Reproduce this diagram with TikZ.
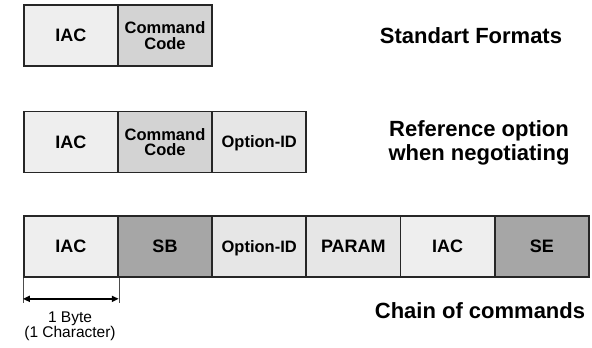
\documentclass[tikz,border=0pt]{standalone}
\usepackage{fontspec}
\setmainfont{Liberation Sans}
\usetikzlibrary{positioning,arrows.meta}
\tikzstyle{field}=[draw=black!85,line width=1.7pt,minimum width=94.2pt,minimum height=61pt,inner sep=0pt,align=center,font=\bfseries\fontsize{18}{18}\selectfont]
\tikzstyle{small}=[font=\bfseries\fontsize{16.5}{16.5}\selectfont]
\tikzstyle{flat}=[text depth=0pt]
\tikzstyle{title}=[align=center,font=\bfseries\fontsize{22}{24.5}\selectfont]
\definecolor{light}{HTML}{EEEEEE}
\definecolor{mid}{HTML}{E6E6E6}
\definecolor{code}{HTML}{D3D3D3}
\definecolor{dark}{HTML}{A6A6A6}

\begin{document}
\begin{tikzpicture}[x=1pt,y=-1pt,node distance=94.2pt]
      \useasboundingbox (0,0) rectangle (592,348);
      % standard format
      \node (a0) [field,fill=light] at (70.8,35.5) {IAC};
      \node (a1) [field,small,fill=code,right of=a0] {Command\\[-1pt]Code};
      \node (ta) [title] at (471,36) {Standart Formats};
      % negotiation
      \node (b0) [field,fill=light] at (70.8,142) {IAC};
      \node (b1) [field,small,fill=code,right of=b0] {Command\\[-1pt]Code};
      \node (b2) [field,small,flat,fill=mid,right of=b1] {Option-ID};
      \node (tb) [title] at (479,143) {Reference option\\when negotiating};
      % chain
      \node (c0) [field,fill=light] at (70.8,246.5) {IAC};
      \node (c1) [field,fill=dark,right of=c0] {SB};
      \node (c2) [field,small,flat,fill=mid,right of=c1] {Option-ID};
      \node (c3) [field,fill=mid,right of=c2] {PARAM};
      \node (c4) [field,fill=light,right of=c3] {IAC};
      \node (c5) [field,fill=dark,right of=c4] {SE};
      \node (tc) [title] at (480,311) {Chain of commands};
      % byte width
      \coordinate (l0) at ([yshift=-25pt]c0.south west);
      \coordinate (l1) at ([yshift=-25pt]c0.south east);
      \draw [thin,black!70] (c0.south west) -- (l0);
      \draw [thin,black!70] (c0.south east) -- (l1);
      \draw [line width=1.7pt,{Triangle[length=7pt,width=6pt]}-{Triangle[length=7pt,width=6pt]}] ([yshift=4pt]l0) -- ([yshift=4pt]l1);
      \node (byte) [align=center,font=\fontsize{15.5}{15}\selectfont] at (70,326) {1 Byte\\(1 Character)};
    \end{tikzpicture}
\end{document}
